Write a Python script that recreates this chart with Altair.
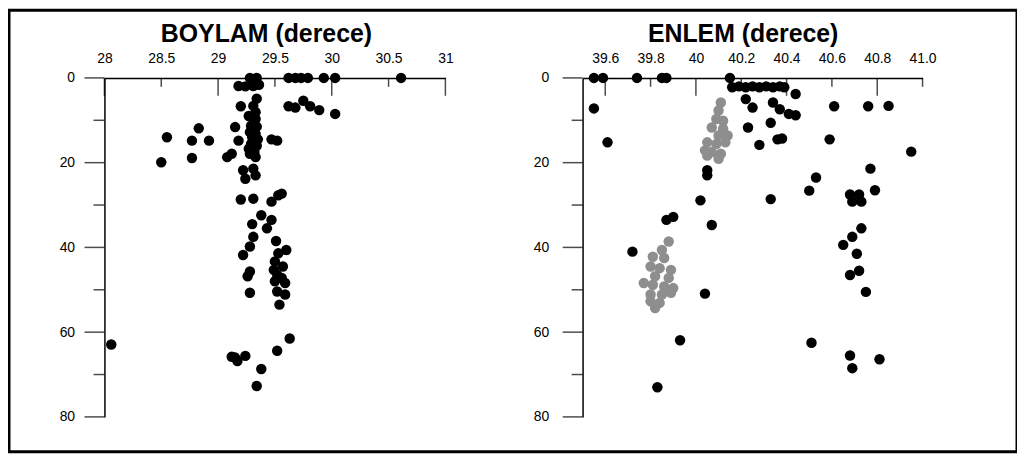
import json
import altair as alt
import pandas as pd

# ---------------- data ----------------
# Left panel: BOYLAM (longitude, degrees) vs depth
boylam_lon = [
    29.28, 29.34, 29.18, 29.24, 29.31, 29.36,
    29.62, 29.68, 29.73, 29.79, 29.93, 30.03, 30.61,
    29.62, 29.68, 29.75, 29.81, 29.89, 30.03,
    29.34, 29.20, 29.31, 29.33, 29.27, 29.33, 29.29, 29.34, 29.28, 29.33,
    29.30, 29.35, 29.29, 29.34, 29.27, 29.32, 29.28, 29.33,
    29.15, 29.18, 29.12, 29.08, 29.47, 29.52,
    28.55, 28.83, 28.77, 28.92, 28.50, 28.77,
    29.22, 29.31, 29.24, 29.33, 29.20, 29.31, 29.47, 29.53, 29.56,
    29.38, 29.47, 29.30, 29.43, 29.31, 29.28, 29.22, 29.51, 29.60,
    29.53, 29.50, 29.49, 29.57, 29.52, 29.56, 29.50, 29.59, 29.52, 29.59, 29.54,
    29.28, 29.26, 29.28,
    29.63, 29.52, 29.15, 29.24, 29.17, 29.12, 29.38, 29.34,
    28.06,
]
boylam_depth = [
    0.0, 0.0, 1.9, 2.0, 1.9, 1.6,
    0.0, 0.0, 0.0, 0.0, 0.0, 0.0, 0.0,
    6.7, 7.0, 5.4, 6.7, 7.6, 8.5,
    4.9, 6.7, 6.6, 8.1, 9.0, 9.7, 11.3, 11.5, 12.8, 13.2,
    14.0, 14.5, 15.6, 16.0, 16.7, 17.5, 17.9, 18.7,
    11.6, 14.8, 17.9, 18.7, 14.5, 14.8,
    14.0, 11.9, 14.8, 14.8, 19.9, 18.9,
    21.8, 21.4, 23.8, 23.0, 28.7, 28.5, 29.2, 27.7, 27.3,
    32.4, 33.5, 34.5, 35.5, 37.5, 39.8, 41.8, 38.5, 40.6,
    41.4, 43.3, 45.3, 44.5, 46.5, 47.2, 48.0, 48.4, 50.4, 51.1, 53.5,
    45.7, 46.8, 50.7,
    61.5, 64.4, 66.0, 65.6, 66.8, 65.8, 68.7, 72.7,
    62.9,
]

# Right panel: ENLEM (latitude, degrees) vs depth, black points
enlem_lat = [
    39.55, 39.59, 39.74, 39.85, 39.87, 40.15,
    40.16, 40.19, 40.22, 40.25, 40.28, 40.31, 40.34, 40.37, 40.39,
    40.44, 40.34, 40.37, 40.41, 40.44, 40.61, 40.76, 40.85,
    40.22, 40.25, 40.23, 40.33, 40.36, 40.38, 40.28, 40.59, 40.95,
    40.77, 40.53, 40.50, 40.33, 40.79, 40.68, 40.72, 40.69, 40.73,
    40.73, 40.69, 40.65, 40.71, 40.72, 40.68, 40.75,
    40.51, 40.68, 40.69, 40.81,
    39.55, 39.61, 40.05, 40.05, 40.02, 39.87, 39.90, 40.07, 39.72, 40.04,
    39.93, 39.83,
]
enlem_depth = [
    0.0, 0.0, 0.0, 0.0, 0.0, 0.0,
    2.2, 2.0, 2.2, 2.0, 2.2, 2.0, 2.2, 2.0, 2.2,
    3.8, 5.8, 7.4, 8.5, 8.8, 6.7, 6.7, 6.6,
    5.0, 7.0, 11.7, 10.6, 14.5, 14.3, 15.8, 14.5, 17.4,
    21.4, 23.5, 26.6, 28.6, 26.5, 27.5, 27.5, 29.2, 29.2,
    35.5, 37.5, 39.4, 41.5, 45.5, 46.5, 50.5,
    62.5, 65.5, 68.5, 66.4,
    7.2, 15.2, 21.8, 23.0, 28.9, 33.5, 32.8, 34.7, 41.0, 50.9,
    61.9, 73.0,
]

# Right panel: grey points
grey_lat = [
    40.11, 40.10, 40.09, 40.12, 40.07, 40.12, 40.10, 40.14, 40.05, 40.09,
    40.13, 40.04, 40.07, 40.11, 40.05, 40.10,
    39.88, 39.85, 39.81, 39.86, 39.80, 39.84, 39.89, 39.82, 39.88, 39.77,
    39.81, 39.86, 39.90, 39.80, 39.85, 39.89, 39.80, 39.84, 39.82,
]
grey_depth = [
    5.8, 7.7, 9.7, 10.1, 11.7, 12.0, 13.6, 13.6, 15.2, 15.6,
    15.2, 17.1, 17.5, 17.9, 18.3, 19.1,
    38.6, 40.6, 42.2, 42.5, 44.5, 44.9, 45.3, 46.8, 47.2, 48.4,
    48.8, 49.2, 49.6, 51.1, 51.1, 50.7, 52.7, 53.1, 54.3,
]

# axis ticks / labels
left_tick_values = [28, 28.5, 29, 29.5, 30, 30.5, 31]
left_tick_labels = ["28", "28.5", "29", "29.5", "30", "30.5", "31"]
left_long_ticks = [28, 29, 30, 31]
left_short_ticks = [28.5, 29.5, 30.5]

right_tick_values = [39.6, 39.8, 40.0, 40.2, 40.4, 40.6, 40.8, 41.0]
right_tick_labels = ["39.6", "39.8", "40", "40.2", "40.4", "40.6", "40.8", "41.0"]
right_long_ticks = [39.6, 40.0, 40.4, 40.8]
right_short_ticks = [39.8, 40.2, 40.6, 41.0]

depth_labels = [0, 20, 40, 60, 80]
depth_minor = [10, 30, 50, 70]

left_title = "BOYLAM (derece)"
right_title = "ENLEM (derece)"

# ---------------- layout / style ----------------
FONT = "Liberation Sans"
W, H = 1014, 444
Y_RANGE = [68, 409]
DOT = 110


def label_expr(values, labels):
    m = {f"{v:.1f}": l for v, l in zip(values, labels)}
    return json.dumps(m) + "[format(datum.value, '.1f')]"


def panel(xvals, yvals, grey, xdom, xrange, tick_values, tick_labels,
          long_t, short_t, title, title_x, ylab_pad):
    xs = alt.Scale(domain=xdom, range=xrange, zero=False, nice=False)
    ys = alt.Scale(domain=[0, 80], range=Y_RANGE, zero=False, nice=False)
    xaxis = alt.Axis(
        orient="top", offset=-Y_RANGE[0], values=tick_values,
        labelExpr=label_expr(tick_values, tick_labels),
        ticks=False, grid=False, domainColor="black", domainWidth=1.5,
        labelFont=FONT, labelFontSize=14, labelColor="black",
        labelPadding=15, labelBaseline="alphabetic", labelFlush=False,
        labelOverlap=False,
        title=title, titleFont=FONT, titleFontSize=25, titleFontWeight="bold",
        titleColor="black", titleX=title_x, titleY=-37,
        titleBaseline="alphabetic", titleAlign="center",
    )
    yaxis = alt.Axis(
        orient="left", offset=-xrange[0], values=depth_labels,
        ticks=False, grid=False, domainColor="black", domainWidth=1.5,
        labelFont=FONT, labelFontSize=14, labelColor="black",
        labelPadding=ylab_pad, labelFlush=False, labelOverlap=False,
        title=None,
    )
    X = lambda: alt.X("lon:Q", scale=xs, axis=xaxis)
    Y = lambda: alt.Y("depth:Q", scale=ys, axis=yaxis)

    layers = [
        alt.Chart(pd.DataFrame({"lon": xvals, "depth": yvals}))
        .mark_circle(size=DOT, opacity=1, color="black")
        .encode(x=X(), y=Y())
    ]
    if grey is not None:
        layers.append(
            alt.Chart(pd.DataFrame({"lon": grey[0], "depth": grey[1]}))
            .mark_circle(size=DOT, opacity=1, color="#8e8e8e")
            .encode(x=X(), y=Y())
        )
    # x-axis ticks pointing down into the plot
    layers.append(
        alt.Chart(pd.DataFrame({"lon": long_t}))
        .mark_tick(orient="vertical", size=18, thickness=1.5, yOffset=9, color="black")
        .encode(x=X(), y=alt.datum(0))
    )
    layers.append(
        alt.Chart(pd.DataFrame({"lon": short_t}))
        .mark_tick(orient="vertical", size=9, thickness=1.5, yOffset=4.5, color="black")
        .encode(x=X(), y=alt.datum(0))
    )
    # y-axis ticks pointing left
    layers.append(
        alt.Chart(pd.DataFrame({"depth": depth_labels}))
        .mark_tick(orient="horizontal", size=20, thickness=1.5, xOffset=-10, color="black")
        .encode(y=Y(), x=alt.datum(xdom[0]))
    )
    layers.append(
        alt.Chart(pd.DataFrame({"depth": depth_minor}))
        .mark_tick(orient="horizontal", size=11, thickness=1.5, xOffset=-5.5, color="black")
        .encode(y=Y(), x=alt.datum(xdom[0]))
    )
    return alt.layer(*layers)


left = panel(boylam_lon, boylam_depth, None, [28, 31], [96, 439],
             left_tick_values, left_tick_labels, left_long_ticks, left_short_ticks,
             left_title, 258.5, 30)
right = panel(enlem_lat, enlem_depth, (grey_lat, grey_depth), [39.5, 41.0], [577, 919],
              right_tick_values, right_tick_labels, right_long_ticks, right_short_ticks,
              right_title, 738, 34)

chart = (
    alt.layer(left, right)
    .resolve_scale(x="independent", y="independent")
    .resolve_axis(x="independent", y="independent")
    .properties(
        width=W, height=H,
        padding={"left": 1, "top": 1, "right": 0, "bottom": 2},
        autosize=alt.AutoSizeParams(type="none"),
        background="white",
    )
    .configure_view(stroke="black", strokeWidth=3)
)

chart.save("out.html", embed_options={"renderer": "svg", "actions": False})
